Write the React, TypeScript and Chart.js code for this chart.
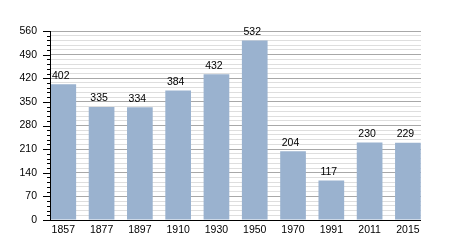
import React, { useEffect, useRef } from "react";
import { Chart, registerables } from "chart.js";

Chart.register(...registerables);

const years = ["1857", "1877", "1897", "1910", "1930", "1950", "1970", "1991", "2011", "2015"];
const population = [402, 335, 334, 384, 432, 532, 204, 117, 230, 229];
const yMax = 560;
const yMajorStep = 70;
const yMinorStep = 14;

const FONT = "'Liberation Sans', Arial, sans-serif";

const overlayPlugin = {
  id: "overlay",
  afterDraw(chart: any) {
    const ctx = chart.ctx;
    const y = chart.scales.y;
    const area = chart.chartArea;
    ctx.save();
    ctx.strokeStyle = "#000";
    ctx.lineWidth = 1;
    for (let v = 0; v <= yMax; v += yMinorStep) {
      const py = Math.round(y.getPixelForValue(v)) + 0.5;
      const major = v % yMajorStep === 0;
      const len = major ? 7 : 3;
      ctx.beginPath();
      ctx.moveTo(area.left - len, py);
      ctx.lineTo(area.left, py);
      ctx.stroke();
    }
    ctx.beginPath();
    ctx.moveTo(Math.round(area.left) + 0.5, area.top);
    ctx.lineTo(Math.round(area.left) + 0.5, area.bottom + 1);
    ctx.stroke();
    ctx.beginPath();
    ctx.moveTo(area.left, Math.round(area.bottom) + 0.5);
    ctx.lineTo(area.right, Math.round(area.bottom) + 0.5);
    ctx.stroke();
    const meta = chart.getDatasetMeta(0);
    ctx.fillStyle = "#000";
    ctx.font = `10.5px ${FONT}`;
    ctx.textAlign = "center";
    ctx.textBaseline = "alphabetic";
    meta.data.forEach((bar: any, i: number) => {
      ctx.fillText(String(population[i]), bar.x - 2.5, bar.y - 5.5);
    });
    ctx.restore();
  },
};

export default function App() {
  const ref = useRef<HTMLCanvasElement | null>(null);
  useEffect(() => {
    if (!ref.current) return;
    const chart = new Chart(ref.current, {
      type: "bar",
      data: {
        datasets: [
          {
            data: population.map((v, i) => ({ x: i, y: v })),
            backgroundColor: "#9ab2cf",
            borderWidth: 0,
            barPercentage: 0.671,
            categoryPercentage: 1,
          },
        ],
      },
      plugins: [overlayPlugin],
      options: {
        responsive: false,
        animation: false,
        events: [],
        layout: { padding: { left: 0, top: 31, right: 29, bottom: 0 } },
        plugins: { legend: { display: false }, tooltip: { enabled: false } },
        scales: {
          x: {
            type: "linear",
            offset: false,
            min: -0.347,
            max: 9.342,
            afterBuildTicks: (scale: any) => {
              scale.ticks = years.map((_, i) => ({ value: i }));
            },
            afterFit: (scale: any) => {
              scale.height = 30;
            },
            grid: { display: false, drawTicks: false, offset: false },
            border: { display: false },
            ticks: {
              autoSkip: false,
              maxRotation: 0,
              padding: 4,
              color: "#000",
              font: { family: FONT, size: 10.5 },
              callback: (v: any) => years[v] ?? "",
            },
          },
          y: {
            min: 0,
            max: yMax,
            afterBuildTicks: (scale: any) => {
              const t = [];
              for (let v = 0; v <= yMax; v += yMinorStep) t.push({ value: v });
              scale.ticks = t;
            },
            afterFit: (scale: any) => {
              scale.width = 50;
            },
            grid: {
              drawTicks: false,
              color: (c: any) => (c.tick && c.tick.value % yMajorStep === 0 ? "#a8a8a8" : "#dedede"),
              lineWidth: 1,
            },
            border: { display: false },
            ticks: {
              autoSkip: false,
              padding: 13,
              color: "#000",
              font: { family: FONT, size: 10.5 },
              callback: (v: any) => (v % yMajorStep === 0 ? String(v) : ""),
            },
          },
        },
      },
    });
    return () => chart.destroy();
  }, []);
  return (
    <div style={{ position: "fixed", left: 0, top: 0, width: 450, height: 250, background: "#fff" }}>
      <canvas ref={ref} width={450} height={250} />
    </div>
  );
}
